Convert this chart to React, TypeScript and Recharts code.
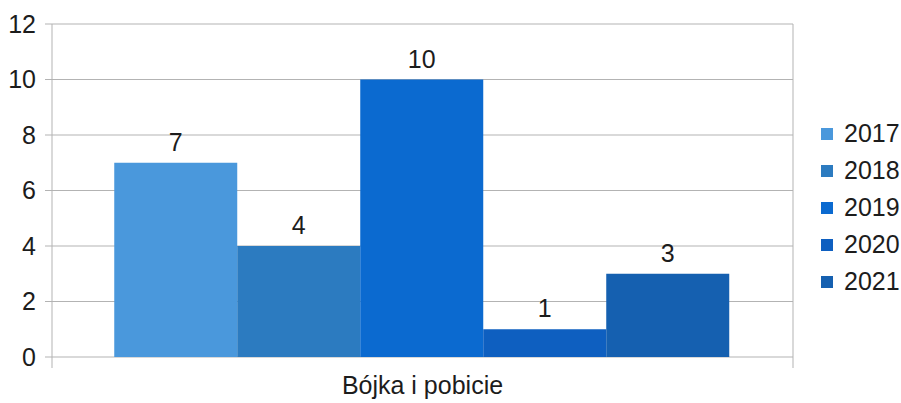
import { Bar, BarChart, CartesianGrid, LabelList, XAxis, YAxis } from 'recharts';

const categories = ['Bójka i pobicie'];
const years = ['2017', '2018', '2019', '2020', '2021'];
const values = [7, 4, 10, 1, 3];
const colors = ['#4a98dc', '#2c7bc0', '#0b6ad0', '#0e5fc0', '#1560b0'];
const yTicks = [0, 2, 4, 6, 8, 10, 12];

const W = 901;
const H = 403;
const margin = { top: 24, right: 108, left: 0, bottom: 0 };
const Y_AXIS_W = 52;
const PLOT_W = W - margin.left - margin.right - Y_AXIS_W;
const FONT = '"Liberation Sans", Arial, sans-serif';
const FS = 25;
const TEXT = '#1c1c1c';
const GRID = '#b3b3b3';

const data = categories.map((name) => {
  const row: Record<string, string | number> = { name };
  years.forEach((y, i) => {
    row[y] = values[i];
  });
  return row;
});

// category label plus the little boundary ticks under the plot
function CategoryTick(props: any) {
  const { x, y, payload } = props;
  const half = PLOT_W / 2;
  return (
    <g>
      <line x1={x - half} x2={x - half} y1={y} y2={y + 11} stroke={GRID} />
      <line x1={x + half} x2={x + half} y1={y} y2={y + 11} stroke={GRID} />
      <text x={x} y={y + 37} textAnchor='middle' fontSize={FS} fontFamily={FONT} fill={TEXT}>
        {payload.value}
      </text>
    </g>
  );
}

// legend sits outside the svg so it doesn't eat plot space
function LegendBox() {
  return (
    <div style={{ position: 'absolute', left: 821, top: 115, fontFamily: FONT, fontSize: FS, color: TEXT }}>
      {years.map((y, i) => (
        <div key={y} style={{ display: 'flex', alignItems: 'center', height: 37 }}>
          <span style={{ width: 12, height: 12, background: colors[i], marginRight: 11 }} />
          <span>{y}</span>
        </div>
      ))}
    </div>
  );
}

export default function App() {
  return (
    <div style={{ position: 'absolute', left: 0, top: 0, width: W, height: H, background: '#fff' }}>
      <BarChart width={W} height={H} data={data} margin={margin} barCategoryGap='8.4%' barGap={0}>
        <CartesianGrid
          stroke={GRID}
          verticalCoordinatesGenerator={({ offset }: any) => [offset.left, offset.left + offset.width]}
        />
        <XAxis
          dataKey='name'
          height={46}
          axisLine={false}
          tickLine={false}
          tickSize={0}
          tickMargin={0}
          tick={<CategoryTick />}
        />
        <YAxis
          width={Y_AXIS_W}
          domain={[0, 12]}
          ticks={yTicks}
          interval={0}
          axisLine={false}
          tickLine={{ stroke: GRID }}
          tickSize={7}
          tickMargin={9}
          tick={{ fontSize: FS, fontFamily: FONT, fill: TEXT }}
        />
        {years.map((y, i) => (
          <Bar key={y} dataKey={y} fill={colors[i]} isAnimationActive={false}>
            <LabelList dataKey={y} position='top' offset={12} fontSize={FS} fontFamily={FONT} fill={TEXT} />
          </Bar>
        ))}
      </BarChart>
      <LegendBox />
    </div>
  );
}
